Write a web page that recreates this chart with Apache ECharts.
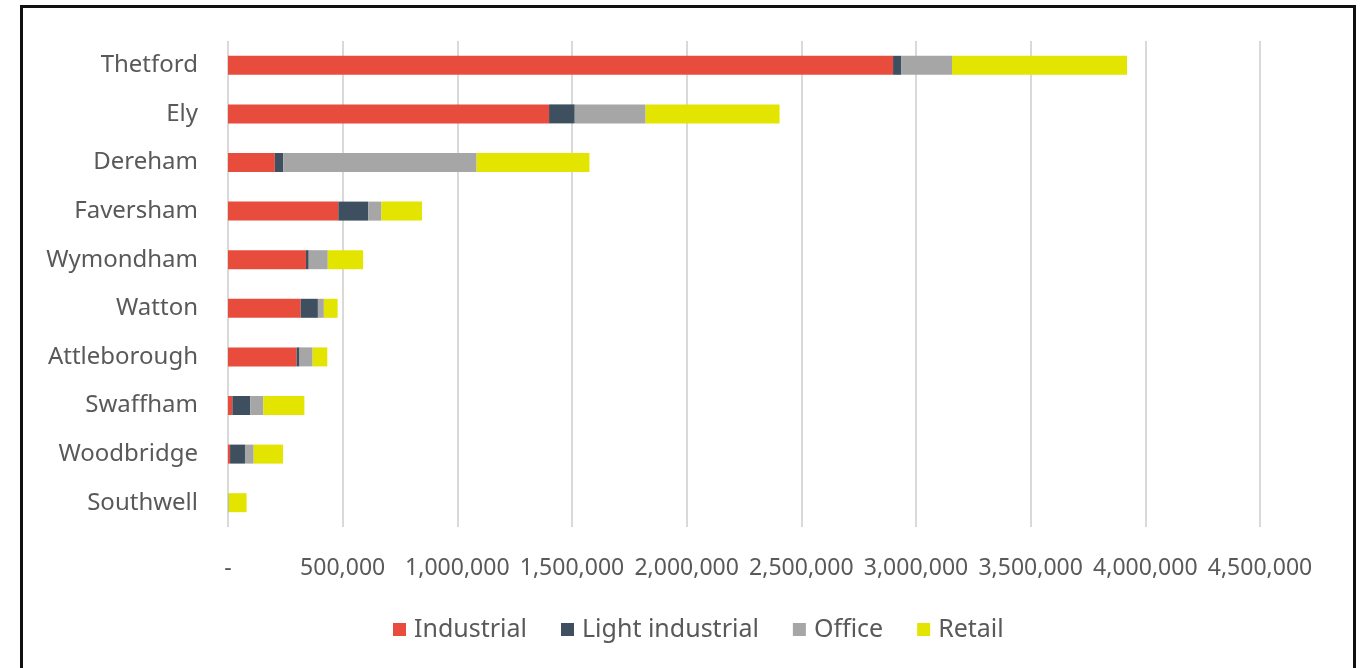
<!DOCTYPE html>
<html>
<head>
<meta charset="utf-8">
<script src="https://cdn.jsdelivr.net/npm/echarts@6/dist/echarts.min.js"></script>
<style>
html,body{margin:0;padding:0;background:#fff;}
#chart{width:1361px;height:668px;}
#frame{position:absolute;left:20px;top:5px;width:1330px;height:700px;border:3px solid #111;pointer-events:none;}
</style>
</head>
<body>
<div id="chart"></div>
<div id="frame"></div>
<script>
var towns=["Thetford","Ely","Dereham","Faversham","Wymondham","Watton","Attleborough","Swaffham","Woodbridge","Southwell"];
var industrial=[2900000,1400000,204000,481000,340000,317000,299000,19000,9000,0];
var lightIndustrial=[35000,112000,37000,131000,12000,75000,13000,78000,65000,0];
var office=[222000,309000,843000,57000,83000,26000,57000,57000,38000,3000];
var retail=[763000,584000,492000,177000,154000,60000,64000,179000,128000,78000];

var txt="#595959";
var font='"Noto Sans", sans-serif';

function mkSeries(name,data,color){
	return {
		name:name,
		type:"bar",
		stack:"total",
		barWidth:19,
		data:data,
		itemStyle:{color:color},
		emphasis:{disabled:true}
	};
}

var myChart=echarts.init(document.getElementById("chart"));
myChart.setOption({
	animation:false,
	textStyle:{fontFamily:font},
	grid:{left:228,right:101,top:41,bottom:141},
	legend:{
		bottom:21,
		left:388,
		icon:"rect",
		itemWidth:13,
		itemHeight:13,
		itemGap:34,
		textStyle:{color:txt,fontSize:25,fontFamily:font,padding:[0,0,0,3]},
		data:["Industrial","Light industrial","Office","Retail"]
	},
	xAxis:{
		type:"value",
		min:0,
		max:4500000,
		interval:500000,
		axisLine:{show:false},
		axisTick:{show:false},
		splitLine:{lineStyle:{color:"#d9d9d9",width:2}},
		axisLabel:{
			color:txt,fontSize:23,margin:30,fontFamily:font,
			formatter:function(v){return v==0?"-":v.toLocaleString("en-US");}
		}
	},
	yAxis:{
		type:"category",
		inverse:true,
		data:towns,
		axisLine:{show:false},
		axisTick:{show:false},
		axisLabel:{color:txt,fontSize:24,margin:30,fontFamily:font}
	},
	series:[
		mkSeries("Industrial",industrial,"#e84c3d"),
		mkSeries("Light industrial",lightIndustrial,"#3e5060"),
		mkSeries("Office",office,"#a6a6a6"),
		mkSeries("Retail",retail,"#e3e400")
	]
});
</script>
</body>
</html>
